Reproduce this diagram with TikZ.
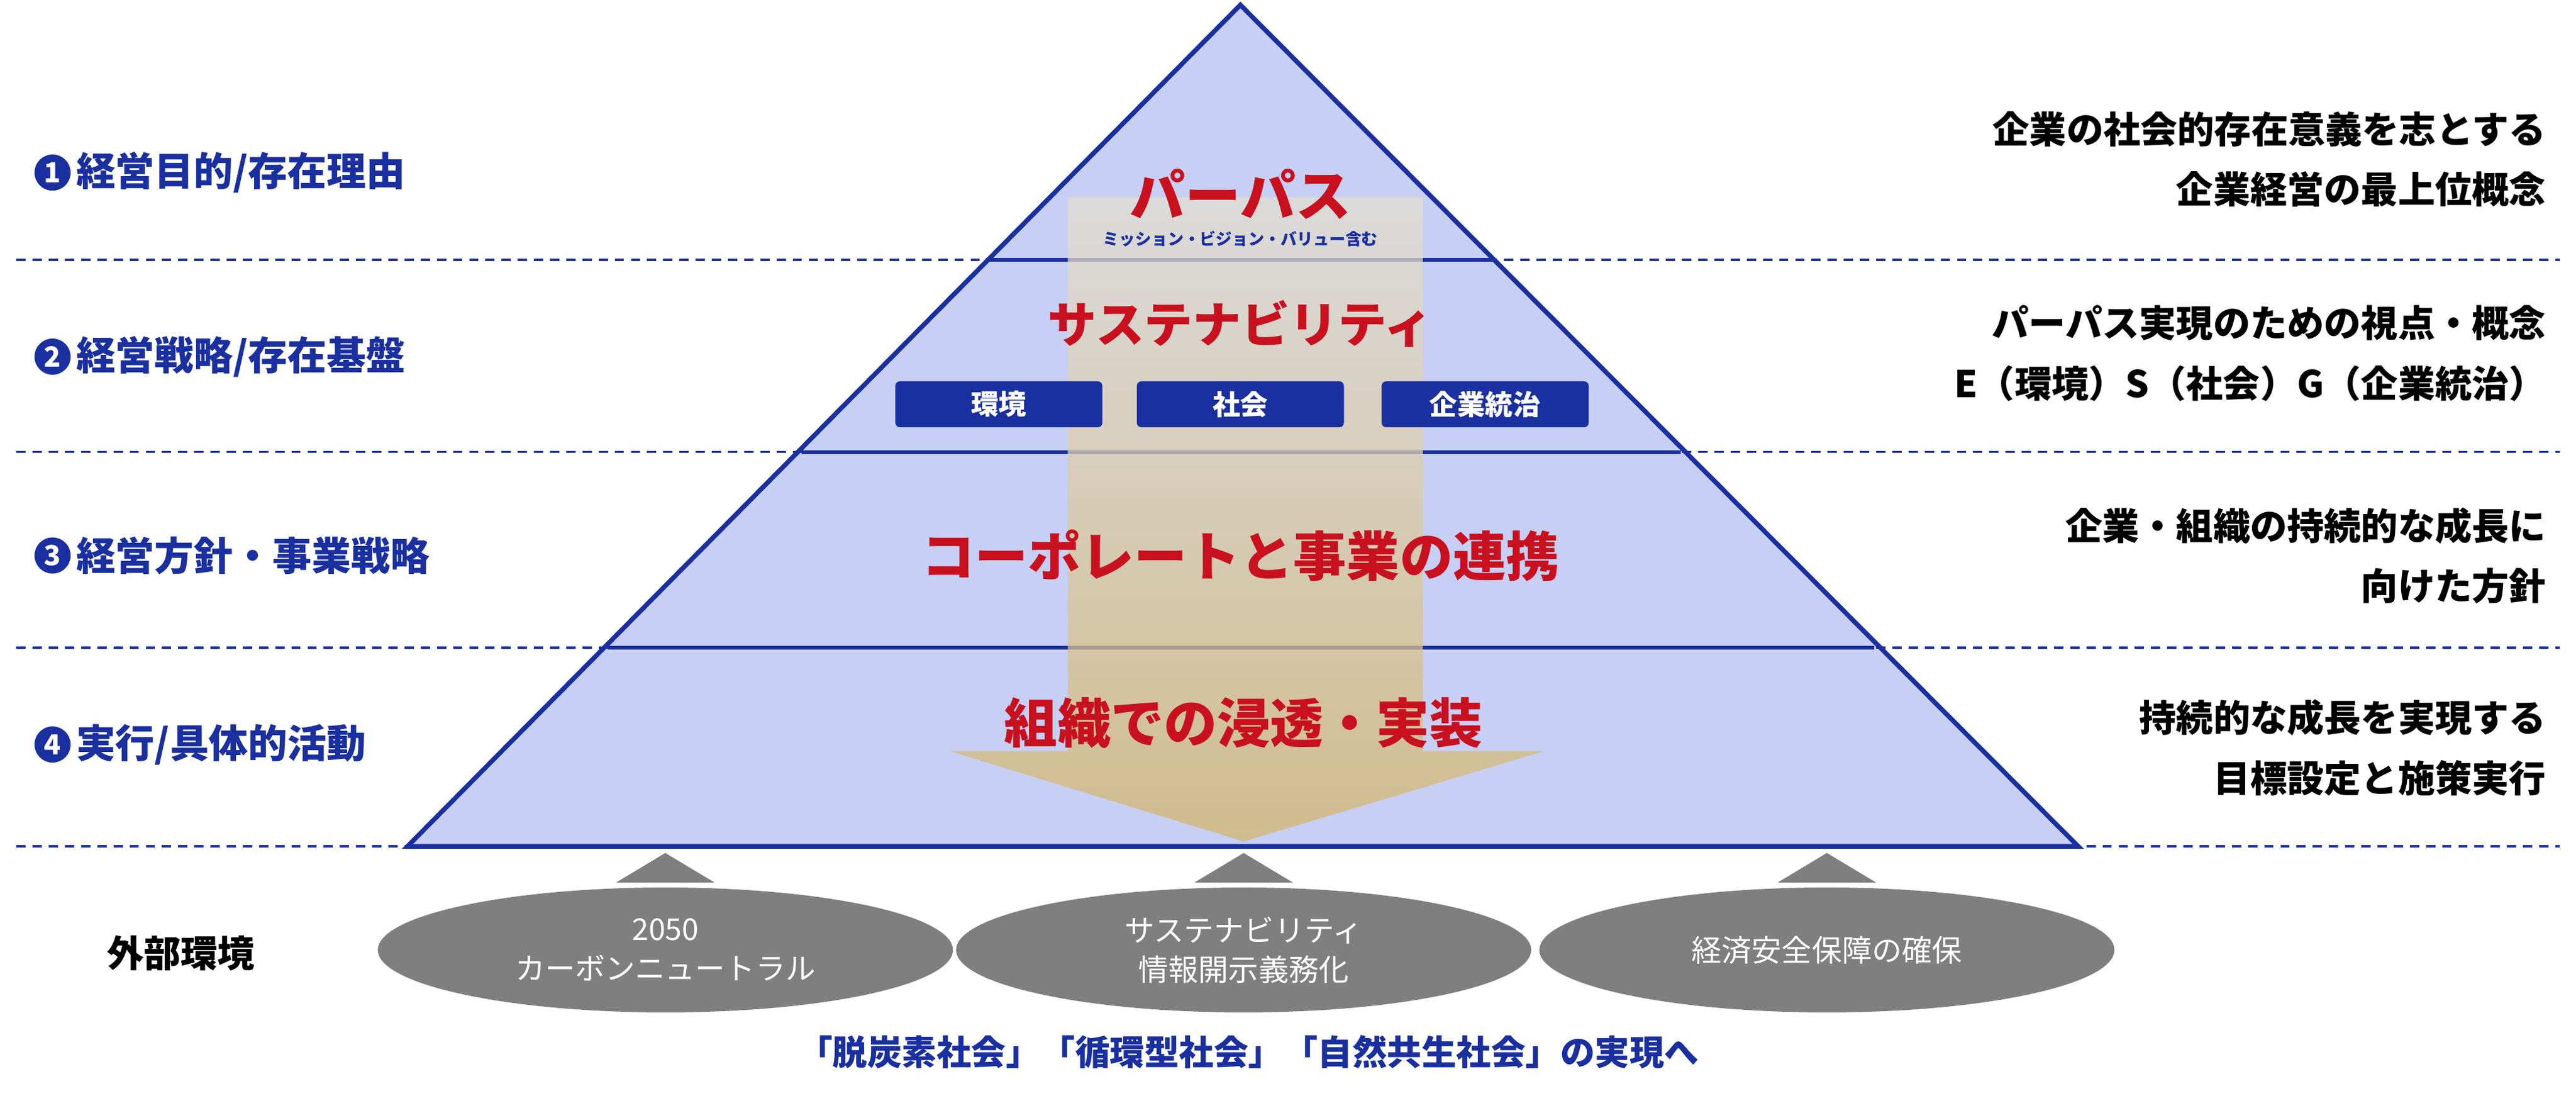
\documentclass[tikz,border=0pt]{standalone}
\usepackage{fontspec}
\setmainfont{Noto Sans CJK JP}
\usetikzlibrary{positioning,shapes.geometric}
\definecolor{pyrblue}{HTML}{1A2FA0}
\definecolor{pyrfill}{HTML}{C7CFF5}
\definecolor{titred}{HTML}{C8101E}
\definecolor{ellgray}{HTML}{7F7F7F}
\definecolor{beigetop}{HTML}{E3DFD2}
\definecolor{beigebot}{HTML}{D5B66C}
\tikzset{
  level/.style={draw=pyrblue,line width=1.6pt,fill=pyrfill},
  sep/.style={pyrblue,line width=1pt,dash pattern=on 4pt off 3pt},
  numc/.style={circle,fill=pyrblue,text=white,inner sep=0pt,minimum size=0.55cm,font=\bfseries\fontsize{12}{12}\selectfont},
  leftlab/.style={anchor=west,text=pyrblue,font=\bfseries\fontsize{17}{20}\selectfont,inner sep=0pt},
  rightlab/.style={anchor=east,align=right,font=\bfseries\fontsize{16}{26}\selectfont,inner sep=0pt},
  bigtit/.style={text=titred,font=\bfseries\fontsize{24}{24}\selectfont},
  esgbox/.style={fill=pyrblue,text=white,rounded corners=2pt,minimum width=3.15cm,minimum height=0.7cm,font=\bfseries\fontsize{12}{12}\selectfont},
  env/.style={ellipse,fill=ellgray,text=white,minimum width=8.75cm,minimum height=1.9cm,align=center,font=\fontsize{13}{17}\selectfont},
  tri/.style={fill=ellgray}
}
\begin{document}
\begin{tikzpicture}[x=0.025cm,y=-0.025cm]
\useasboundingbox (0,0) rectangle (1568,677);
% pyramid
\fill[pyrfill] (755,3) -- (248,515) -- (1265,515) -- cycle;
% separators
\foreach \yy in {158,275,394,515}
  \draw[sep] (10,\yy) -- (1558,\yy);
\draw[pyrblue,line width=1.6pt] (600,158) -- (910,158);
\draw[pyrblue,line width=1.6pt] (488,275) -- (1023,275);
\draw[pyrblue,line width=1.6pt] (370,394) -- (1141,394);
\draw[pyrblue,line width=2pt,line join=miter] (755,3) -- (248,515) -- (1265,515) -- cycle;
% flow column
\shade[top color=beigetop,bottom color=beigebot,opacity=0.75]
  (650,120) -- (866,120) -- (866,457) -- (940,457) -- (757,512) -- (578,457) -- (650,457) -- cycle;
% titles
\node[bigtit] (purpose) at (755,118) {パーパス};
\node[font=\bfseries\fontsize{7}{7}\selectfont,text=pyrblue,below=-2pt of purpose] (purposesub) {ミッション・ビジョン・バリュー含む};
\node[bigtit,font=\bfseries\fontsize{21}{21}\selectfont] (sust) at (755,197) {サステナビリティ};
\node[esgbox] (esgE) at (608,246) {環境};
\node[esgbox] (esgS) at (755,246) {社会};
\node[esgbox] (esgG) at (904,246) {企業統治};
\node[bigtit,font=\bfseries\fontsize{23}{23}\selectfont] (corp) at (755,338) {コーポレートと事業の連携};
\node[bigtit,font=\bfseries\fontsize{23}{23}\selectfont] (impl) at (757,440) {組織での浸透・実装};
% left labels
\node[numc] (n1) at (32,105) {1};
\node[leftlab,right=2pt of n1] (l1) {経営目的/存在理由};
\node[numc] (n2) at (32,217) {2};
\node[leftlab,right=2pt of n2] (l2) {経営戦略/存在基盤};
\node[numc] (n3) at (32,338) {3};
\node[leftlab,right=2pt of n3] (l3) {経営方針・事業戦略};
\node[numc] (n4) at (32,453) {4};
\node[leftlab,right=2pt of n4] (l4) {実行/具体的活動};
% right labels
\node[rightlab] (r1) at (1550,97) {企業の社会的存在意義を志とする\\企業経営の最上位概念};
\node[rightlab] (r2) at (1550,215) {パーパス実現のための視点・概念\\E（環境）S（社会）G（企業統治）};
\node[rightlab] (r3) at (1550,338) {企業・組織の持続的な成長に\\向けた方針};
\node[rightlab] (r4) at (1550,455) {持続的な成長を実現する\\目標設定と施策実行};
% external environment
\foreach \xx in {405,757,1112}
  \fill[tri] (\xx-30,537) -- (\xx,519) -- (\xx+30,537) -- cycle;
\node[env] (e1) at (405,578) {2050\\カーボンニュートラル};
\node[env] (e2) at (757,578) {サステナビリティ\\情報開示義務化};
\node[env] (e3) at (1112,578) {経済安全保障の確保};
\node[font=\bfseries\fontsize{16}{16}\selectfont] (ext) at (110,580) {外部環境};
\node[text=pyrblue,font=\bfseries\fontsize{15}{15}\selectfont] (goal) at (760,640) {「脱炭素社会」「循環型社会」「自然共生社会」の実現へ};
\end{tikzpicture}
\end{document}
